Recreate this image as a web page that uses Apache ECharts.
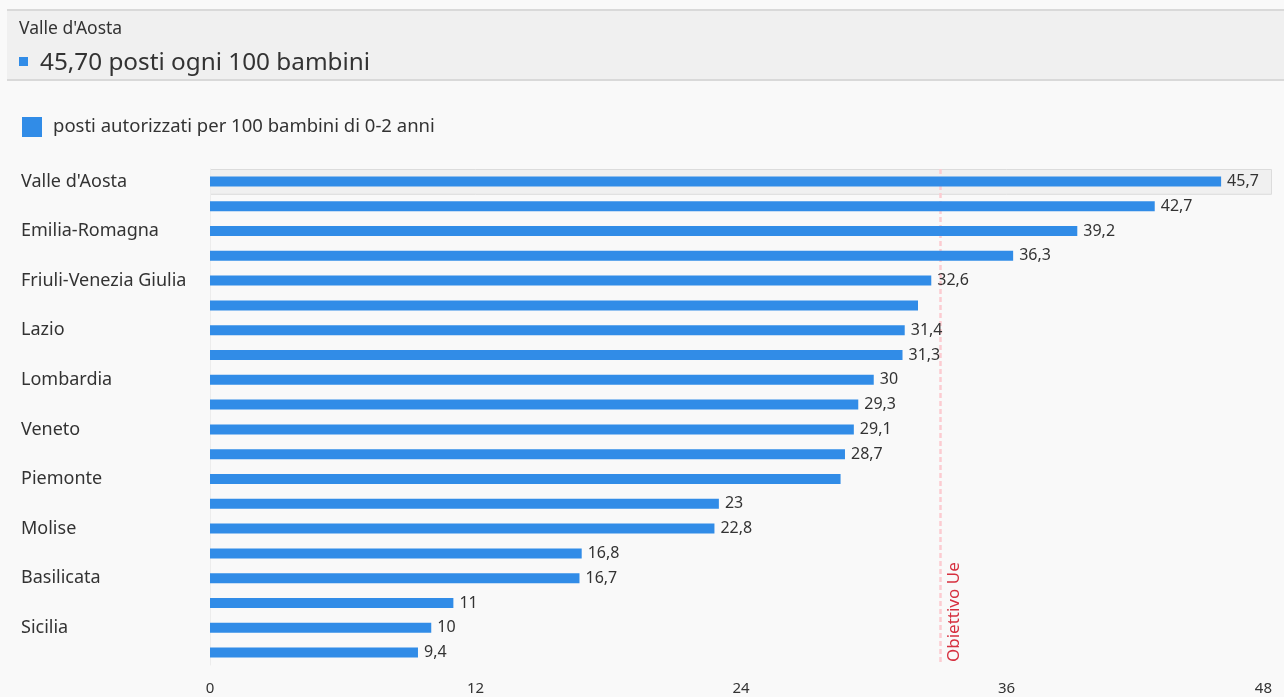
<!DOCTYPE html>
<html><head><meta charset="utf-8">
<script src="https://cdn.jsdelivr.net/npm/echarts@6/dist/echarts.min.js"></script>
<style>html,body{margin:0;padding:0;background:#f9f9f9}#c{width:1284px;height:697px}</style>
</head><body><div id="c"></div>
<script>
const categories = ["Valle d'Aosta","Umbria","Emilia-Romagna","Toscana","Friuli-Venezia Giulia","Trentino-Alto Adige","Lazio","Marche","Lombardia","Liguria","Veneto","Sardegna","Piemonte","Abruzzo","Molise","Puglia","Basilicata","Calabria","Sicilia","Campania"];
const values = [45.7,42.7,39.2,36.3,32.6,32.0,31.4,31.3,30,29.3,29.1,28.7,28.5,23,22.8,16.8,16.7,11,10,9.4];
const unlabeled = ["Trentino-Alto Adige","Piemonte"];
const seriesName = "posti autorizzati per 100 bambini di 0-2 anni";
const targetValue = 33;
const targetLabel = "Obiettivo Ue";
const xTicks = [0,12,24,36,48];
const highlighted = "Valle d'Aosta";

const FONT = "Noto Sans";
const fmt = v => String(v).replace('.', ',');
const chart = echarts.init(document.getElementById('c'));
const hiIdx = categories.indexOf(highlighted);

const option = {
  backgroundColor: '#f9f9f9',
  textStyle: {fontFamily: FONT},
  animation: false,
  legend: {
    left: 17, top: 112, itemWidth: 20, itemHeight: 20, itemGap: 10,
    icon: 'rect',
    textStyle: {fontSize: 18.5, color: '#333', fontFamily: FONT, padding: [4, 0, 0, 6]},
    data: [seriesName]
  },
  grid: {left: 210, right: 12, top: 169, bottom: 32, containLabel: false},
  xAxis: {
    type: 'value', min: xTicks[0], max: xTicks[xTicks.length-1], interval: 12,
    axisLine: {show: false}, axisTick: {show: false}, splitLine: {show: false},
    axisLabel: {fontSize: 15, color: '#333', margin: 16, alignMaxLabel: 'right', fontFamily: FONT}
  },
  yAxis: {
    type: 'category', data: categories, inverse: true,
    axisLine: {show: true, lineStyle: {color: '#ececec', width: 1}},
    axisTick: {show: false},
    axisLabel: {interval: 1, align: 'left', margin: 189, fontSize: 18, color: '#333', fontFamily: FONT}
  },
  series: [{
    name: seriesName, type: 'bar', barWidth: 10, z: 3,
    itemStyle: {color: '#318ce7'},
    data: values.map((v, i) => ({value: v, label: {show: unlabeled.indexOf(categories[i]) < 0}})),
    label: {show: true, position: 'right', distance: 6, fontSize: 16, color: '#333', fontFamily: FONT, formatter: p => fmt(p.value)},
    markLine: {
      silent: true, symbol: 'none', z: 1,
      lineStyle: {color: '#fcccd1', type: [5, 3], width: 2.5},
      label: {show: false},
      data: [{xAxis: targetValue}]
    }
  }]
};
chart.setOption(option);

const y0 = chart.convertToPixel({gridIndex: 0}, [0, hiIdx])[1];
const y1 = chart.convertToPixel({gridIndex: 0}, [0, hiIdx + 1])[1];
const band = y1 - y0;
const xL = chart.convertToPixel({gridIndex: 0}, [xTicks[0], 0])[0];
const xR = chart.convertToPixel({gridIndex: 0}, [xTicks[xTicks.length-1], 0])[0];
const xT = chart.convertToPixel({gridIndex: 0}, [targetValue, 0])[0];
const yBottom = chart.convertToPixel({gridIndex: 0}, [0, categories.length - 1])[1] + band / 2;
chart.setOption({
  graphic: [
    {type: 'rect', z: -1, shape: {x: 7, y: 10, width: 1290, height: 70}, style: {fill: '#f0f0f0'}},
    {type: 'line', z: -1, shape: {x1: 7, y1: 10, x2: 1290, y2: 10}, style: {stroke: '#d9d9d9', lineWidth: 2}},
    {type: 'line', z: -1, shape: {x1: 7, y1: 80, x2: 1290, y2: 80}, style: {stroke: '#d9d9d9', lineWidth: 2}},
    {type: 'text', x: 19, y: 29, style: {text: categories[hiIdx], fontSize: 17.5, fill: '#333', fontFamily: FONT, verticalAlign: 'middle'}},
    {type: 'rect', shape: {x: 19, y: 57, width: 9, height: 9}, style: {fill: '#318ce7'}},
    {type: 'text', x: 40, y: 63, style: {text: values[hiIdx].toFixed(2).replace('.', ',') + ' posti ogni 100 bambini', fontSize: 24.3, fill: '#333', fontFamily: FONT, verticalAlign: 'middle'}},
    {type: 'rect', z: -1, shape: {x: xL + 0.5, y: y0 - band / 2 + 0.5, width: xR - xL - 1, height: band}, style: {fill: '#f0f0f0', stroke: '#dcdcdc', lineWidth: 1}},
    {type: 'text', x: xT + 6, y: yBottom - 3, rotation: Math.PI / 2, z: 10, style: {text: targetLabel, fontSize: 17, fill: '#d6303f', fontFamily: FONT, align: 'left', verticalAlign: 'top'}}
  ]
});
</script></body></html>
